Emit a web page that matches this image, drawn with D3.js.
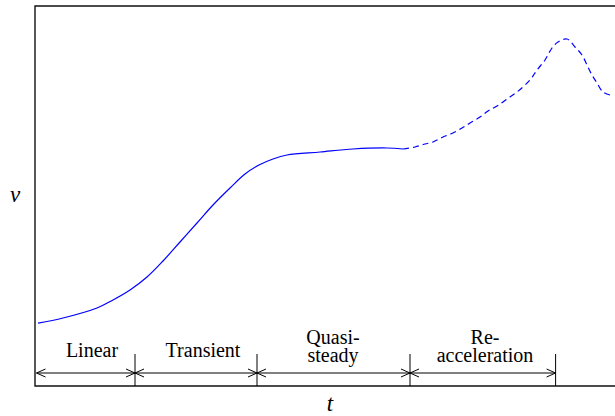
<!DOCTYPE html>
<html><head><meta charset="utf-8">
<script src="https://cdn.jsdelivr.net/npm/d3@7"></script>
<style>body{margin:0;background:#fff}svg{display:block}</style>
</head><body>
<svg id="c" width="615" height="416"></svg>
<script>
// time units / velocity units (arbitrary)
const solidT = [0.15,1.4,3.1,3.9,4.75,5.6,6.4,7.25,8.1,8.9,9.75,10.5,11.2,11.9,12.6,14.25,15.9,17.6,18.4];
const solidV = [3.14,3.4,3.9,4.3,4.8,5.45,6.25,7.2,8.15,9.05,9.9,10.6,11.05,11.35,11.55,11.7,11.85,11.9,11.85];
const dashT = [18.4,19.0,19.5,19.9,20.4,20.9,21.35,21.75,22.25,22.65,23.1,23.6,24.1,24.75,25.1,25.5,25.85,26.15,26.6,27.0,27.35,27.6,27.85,28.1,28.4,28.75];
const dashV = [11.85,11.95,12.1,12.2,12.45,12.65,12.9,13.15,13.45,13.75,14.0,14.35,14.7,15.3,15.8,16.3,16.9,17.2,17.35,16.95,16.55,16.05,15.55,15.15,14.7,14.55];
const phaseBounds = [0, 5, 11.1, 18.75, 26.03];
const phaseLabels = [["Linear"],["Transient"],["Quasi-","steady"],["Re-","acceleration"]];
const phaseLabelT = [2.85, 8.4, 14.9, 22.5];
const xLabel = "t", yLabel = "v";

const FONT = '"Liberation Serif", "Times New Roman", serif';
const svg = d3.select("#c");
const L = 35, T = 6, B = 386, R = 615;
const x = d3.scaleLinear().domain([0, 29]).range([L, R]);
const y = d3.scaleLinear().domain([0, 19]).range([B, T]);

// frame
svg.append("path").attr("d", `M${R+2},${T}H${L}V${B}H${R+2}`)
  .attr("fill","none").attr("stroke","#111").attr("stroke-width",1.4);

const line = d3.line().x(d=>x(d[0])).y(d=>y(d[1])).curve(d3.curveCatmullRom.alpha(0.5));
svg.append("path").datum(d3.zip(solidT, solidV)).attr("d", line)
  .attr("fill","none").attr("stroke","#0000ff").attr("stroke-width",1.2);
svg.append("path").datum(d3.zip(dashT, dashV)).attr("d", line)
  .attr("fill","none").attr("stroke","#0000ff").attr("stroke-width",1.2)
  .attr("stroke-dasharray","6,4");

// phase annotations
const ay = 373, ah = 9, aw = 4;
const g = svg.append("g").attr("stroke","#000").attr("stroke-width",1).attr("fill","none");
phaseBounds.slice(1).forEach(b => {
  g.append("line").attr("x1", x(b)).attr("x2", x(b)).attr("y1", 354).attr("y2", B);
});
for (let i = 0; i < phaseBounds.length - 1; i++) {
  const x0 = x(phaseBounds[i]) + (i === 0 ? 1.5 : 0), x1 = x(phaseBounds[i+1]);
  g.append("line").attr("x1", x0).attr("x2", x1).attr("y1", ay).attr("y2", ay);
  g.append("path").attr("d", `M${x0+ah},${ay-aw}L${x0},${ay}L${x0+ah},${ay+aw}`);
  g.append("path").attr("d", `M${x1-ah},${ay-aw}L${x1},${ay}L${x1-ah},${ay+aw}`);
  const lab = phaseLabels[i];
  const t = svg.append("text").style("font-family", FONT).attr("x", x(phaseLabelT[i])).attr("text-anchor","middle")
    .attr("font-size",20).attr("fill","#000");
  if (lab.length === 1) t.attr("y", 357).text(lab[0]);
  else {
    t.append("tspan").attr("x", x(phaseLabelT[i])).attr("y", 344).text(lab[0]);
    t.append("tspan").attr("x", x(phaseLabelT[i])).attr("y", 362).text(lab[1]);
  }
}

svg.append("text").style("font-family", FONT).attr("x", x(14.75)).attr("y", 411).attr("text-anchor","middle")
  .attr("font-style","italic").attr("font-size",23).text(xLabel);
svg.append("text").style("font-family", FONT).attr("x", 15).attr("y", 202).attr("text-anchor","middle")
  .attr("font-style","italic").attr("font-size",23).text(yLabel);
</script>
</body></html>
